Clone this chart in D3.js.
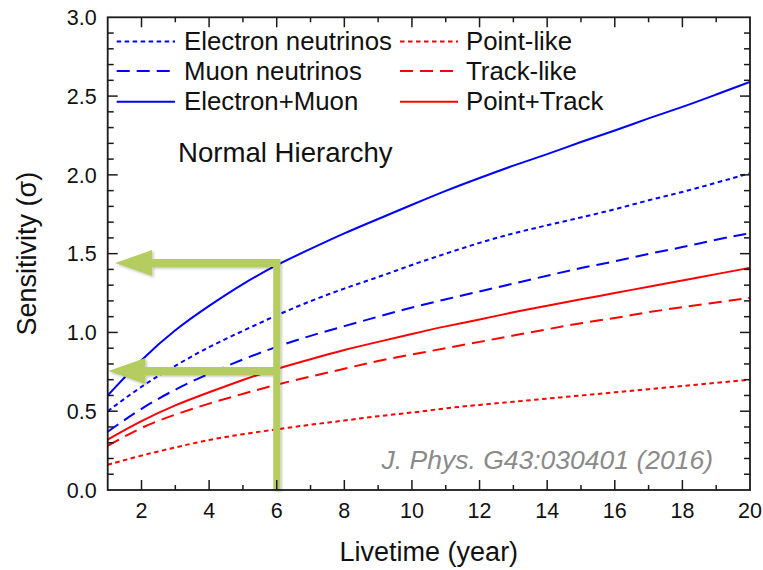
<!DOCTYPE html>
<html><head><meta charset="utf-8">
<script src="https://cdn.jsdelivr.net/npm/d3@7"></script>
<style>body{margin:0;background:#fff}svg{display:block}text{font-family:"Liberation Sans",Arial,sans-serif}</style>
</head><body><svg id="c" width="763" height="570"></svg>
<script>
const years = [1,2,3,4,5,6,7,8,9,10,11,12,13,14,15,16,17,18,19,20];
const electronNeutrinos = [0.50,0.66,0.79,0.91,1.01,1.11,1.20,1.28,1.35,1.43,1.50,1.57,1.63,1.68,1.73,1.78,1.84,1.89,1.95,2.01];
const muonNeutrinos = [0.37,0.52,0.64,0.74,0.83,0.91,0.98,1.04,1.10,1.16,1.21,1.26,1.31,1.36,1.41,1.45,1.50,1.54,1.59,1.63];
const electronMuon = [0.60,0.83,1.02,1.17,1.31,1.43,1.53,1.63,1.72,1.81,1.90,1.98,2.06,2.13,2.21,2.28,2.36,2.43,2.51,2.59];
const pointLike = [0.16,0.22,0.27,0.32,0.355,0.385,0.415,0.44,0.47,0.49,0.52,0.54,0.56,0.58,0.60,0.62,0.64,0.66,0.68,0.70];
const trackLike = [0.28,0.40,0.48,0.55,0.61,0.67,0.72,0.77,0.82,0.86,0.90,0.94,0.98,1.02,1.06,1.09,1.13,1.16,1.19,1.22];
const pointTrack = [0.32,0.44,0.54,0.62,0.70,0.77,0.83,0.89,0.94,0.99,1.04,1.08,1.13,1.17,1.21,1.25,1.29,1.33,1.37,1.41];
const xTicks = [2,4,6,8,10,12,14,16,18,20];
const yTicks = [0,0.5,1.0,1.5,2.0,2.5,3.0];
const seriesNames = ["Electron neutrinos","Muon neutrinos","Electron+Muon","Point-like","Track-like","Point+Track"];
const seriesColors = ["#0000ff","#0000ff","#0000ff","#ff0000","#ff0000","#ff0000"];
const seriesStyles = ["dot","dash","solid","dot","dash","solid"];
const arrowYear = 6;
const arrowLevels = [1.44, 0.755];
const arrowTips = [1.22, 1.02];

const seriesValues = [electronNeutrinos,muonNeutrinos,electronMuon,pointLike,trackLike,pointTrack];
const dashes = {dot:"4.5,3.5", dash:"13,7", solid:null};

const svg = d3.select("#c");
const L=107.7, R=750, T=17.3, B=490;
const x = d3.scaleLinear().domain([1,20]).range([L,R]);
const y = d3.scaleLinear().domain([0,3]).range([B,T]);

// curves
const line = d3.line().x((d,i)=>x(years[i])).y(d=>y(d)).curve(d3.curveBasis);
seriesValues.forEach((vals,k)=>{
  svg.append("path").attr("d",line(vals)).attr("fill","none")
    .attr("stroke",seriesColors[k]).attr("stroke-width",2)
    .attr("stroke-dasharray",dashes[seriesStyles[k]]);
});

// green arrows
const defs = svg.append("defs");
const f = defs.append("filter").attr("id","sh").attr("x","-20%").attr("y","-20%").attr("width","140%").attr("height","140%");
f.append("feDropShadow").attr("dx",1.5).attr("dy",1.5).attr("stdDeviation",1.2).attr("flood-color","#000").attr("flood-opacity",0.25);
const green = "#b5cd60";
const g = svg.append("g").attr("filter","url(#sh)");
const bw = 3.5, hw = 4, headH = 13, headL = 37;
const xv = x(arrowYear);
g.append("rect").attr("x",xv-bw).attr("y",y(arrowLevels[0])-hw).attr("width",2*bw).attr("height",B-(y(arrowLevels[0])-hw)).attr("fill",green);
arrowLevels.forEach((lv,i)=>{
  const yc = y(lv), tip = x(arrowTips[i]), base = tip+headL;
  const p = d3.path();
  p.moveTo(tip,yc); p.lineTo(base,yc-headH); p.lineTo(base,yc-hw); p.lineTo(xv+bw,yc-hw);
  p.lineTo(xv+bw,yc+hw); p.lineTo(base,yc+hw); p.lineTo(base,yc+headH); p.closePath();
  g.append("path").attr("d",p.toString()).attr("fill",green);
});

// frame & ticks
const axisColor="#1a1a1a";
svg.append("rect").attr("x",L).attr("y",T).attr("width",R-L).attr("height",B-T).attr("fill","none").attr("stroke",axisColor).attr("stroke-width",1.8);
const xMinor = d3.range(2,20,1);
const yMinor = d3.range(1,30).map(d=>d/10);
const tk = svg.append("g").attr("stroke",axisColor).attr("stroke-width",1.5);
xMinor.forEach(v=>{
  const len = xTicks.includes(v)?10:5;
  tk.append("line").attr("x1",x(v)).attr("x2",x(v)).attr("y1",B).attr("y2",B-len);
  tk.append("line").attr("x1",x(v)).attr("x2",x(v)).attr("y1",T).attr("y2",T+len);
});
yMinor.forEach(v=>{
  const major = Math.abs(v*2-Math.round(v*2))<1e-6;
  const len = major?10:6;
  tk.append("line").attr("y1",y(v)).attr("y2",y(v)).attr("x1",L).attr("x2",L+len);
  tk.append("line").attr("y1",y(v)).attr("y2",y(v)).attr("x1",R).attr("x2",R-len);
});

// tick labels
svg.append("g").selectAll("text").data(xTicks).join("text")
  .attr("x",d=>x(d)).attr("y",B+28).attr("text-anchor","middle")
  .attr("font-size",21.5).attr("fill","#111").text(d=>d);
svg.append("g").selectAll("text").data(yTicks).join("text")
  .attr("x",L-11).attr("y",d=>y(d)).attr("dy","0.36em").attr("text-anchor","end")
  .attr("font-size",21.5).attr("fill","#111").text(d=>d.toFixed(1));

// axis titles
svg.append("text").attr("x",(L+R)/2).attr("y",561).attr("text-anchor","middle")
  .attr("font-size",27).attr("fill","#111").text("Livetime (year)");
svg.append("text").attr("transform",`translate(36,${(T+B)/2}) rotate(-90)`).attr("text-anchor","middle")
  .attr("font-size",27).attr("fill","#111").text("Sensitivity (σ)");

// legend
const legX = [[116.7,175,184],[400,458,466]];
const legY = [41.5,71,101.7];
seriesNames.forEach((n,k)=>{
  const col = Math.floor(k/3), row = k%3;
  const [x1,x2,tx] = legX[col];
  svg.append("line").attr("x1",x1).attr("x2",x2).attr("y1",legY[row]).attr("y2",legY[row])
    .attr("stroke",seriesColors[k]).attr("stroke-width",2).attr("stroke-dasharray",dashes[seriesStyles[k]]);
  svg.append("text").attr("x",tx).attr("y",legY[row]+8.5).attr("font-size",25.8).attr("fill","#111").text(n);
});

svg.append("text").attr("x",178).attr("y",162).attr("font-size",27.6).attr("fill","#111").text("Normal Hierarchy");
svg.append("text").attr("x",713).attr("y",469).attr("text-anchor","end").attr("font-size",26.5)
  .attr("font-style","italic").attr("fill","#8a8a8a").text("J. Phys. G43:030401 (2016)");
</script></body></html>
